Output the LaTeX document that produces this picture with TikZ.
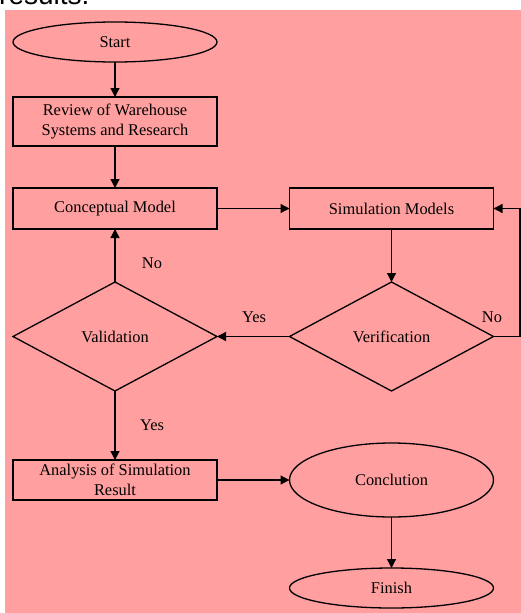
\documentclass[tikz,border=0pt]{standalone}
\usepackage{fontspec}
\setmainfont{Liberation Serif}
\newfontfamily\headsans{Liberation Sans}
\usetikzlibrary{shapes.geometric,arrows.meta}
\definecolor{bgpink}{RGB}{255,159,159}
\tikzset{
  base/.style={draw=black, line width=1.3pt, inner sep=0pt, outer sep=0pt,
    font=\fontsize{16.4}{19.5}\selectfont, align=center, text=black},
  boxnode/.style={base, rectangle, minimum width=204pt},
  ovalnode/.style={base, ellipse, minimum width=204pt},
  decision/.style={base, diamond, minimum width=204pt, minimum height=109pt, aspect=1.87},
  lbl/.style={font=\fontsize{16.4}{19.5}\selectfont, text=black, inner sep=0pt},
  flow/.style={line width=1.3pt, -{Triangle[length=9pt,width=9pt]}}
}
\begin{document}
\begin{tikzpicture}[x=1pt,y=-1pt]
\useasboundingbox (0,0) rectangle (521,613);
\fill[bgpink] (5,10) rectangle (521,613);
\node[anchor=base west, inner sep=0pt, font=\headsans\fontsize{28}{30}\selectfont] (cut) at (-1,5) {results.};

\node[ovalnode, minimum height=40pt] (start) at (115,42) {Start};
\node[boxnode, minimum height=49pt] (review) at (115,121.5) {Review of Warehouse\\Systems and Research};
\node[boxnode, minimum height=41pt] (concept) at (115,208.5) {Conceptual Model};
\node[boxnode, minimum height=41pt] (sim) at (391.5,208.5) {Simulation Models};
\node[decision] (valid) at (115,336.5) {Validation};
\node[decision] (verif) at (391.5,336.5) {Verification};
\node[boxnode, minimum height=40pt] (analysis) at (115,480) {Analysis of Simulation\\Result};
\node[ovalnode, minimum height=74pt] (concl) at (391.5,480) {Conclution};
\node[ovalnode, minimum height=40pt] (finish) at (391.5,588) {Finish};

\coordinate (loop) at (520,336.5);

\draw[flow] (start) -- (review);
\draw[flow] (review) -- (concept);
\draw[flow] (concept) -- (sim);
\draw[flow] (sim) -- (verif);
\draw[flow] (verif.west) -- (valid.east);
\draw[flow] (valid.north) -- (concept.south);
\draw[flow] (verif.east) -- (loop) |- (sim.east);
\draw[flow] (valid.south) -- (analysis.north);
\draw[flow] (analysis.east) -- (concl.west);
\draw[flow] (concl) -- (finish);

\node[lbl] (lno1) at (152,263) {No};
\node[lbl] (lyes1) at (254,317) {Yes};
\node[lbl] (lno2) at (492,317) {No};
\node[lbl] (lyes2) at (152,425) {Yes};
\end{tikzpicture}
\end{document}
